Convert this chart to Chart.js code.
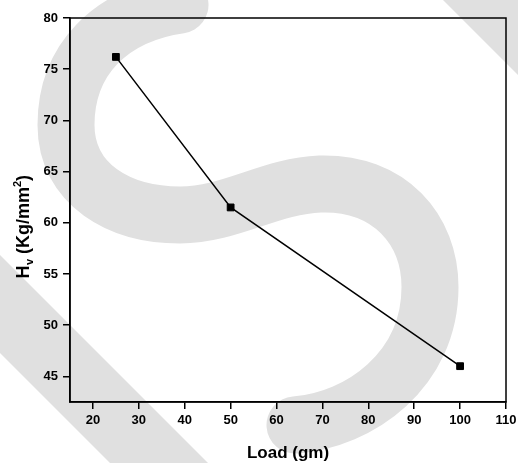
<!DOCTYPE html>
<html>
<head>
<meta charset="utf-8">
<script src="https://cdn.jsdelivr.net/npm/chart.js@4/dist/chart.umd.min.js"></script>
<style>
  html, body { margin: 0; padding: 0; background: #ffffff; }
  #wrap { width: 518px; height: 463px; }
</style>
</head>
<body>
<div id="wrap"><canvas id="c" width="518" height="463"></canvas></div>
<script>
// ---- data ----
const loads = [25, 50, 100];            // Load (gm)
const hardness = [76.2, 61.5, 46.0];    // Hv (Kg/mm^2)
const xTicks = [20, 30, 40, 50, 60, 70, 80, 90, 100, 110];
const yTicks = [45, 50, 55, 60, 65, 70, 75, 80];
const xTitle = 'Load (gm)';
const yTitleMain = 'H';
const yTitleSub = 'v';
const yTitleMid = ' (Kg/mm';
const yTitleSup = '2';
const yTitleEnd = ')';

const FONT = '"Liberation Sans", Arial, Helvetica, sans-serif';

// light grey watermark drawn behind the chart
const watermark = {
  id: 'watermark',
  beforeDraw(chart) {
    const ctx = chart.ctx;
    ctx.save();
    ctx.fillStyle = '#e0e0e0';
    ctx.strokeStyle = '#e0e0e0';
    // diagonal bands
    ctx.beginPath();
    ctx.moveTo(0, 255); ctx.lineTo(208, 463); ctx.lineTo(110, 463); ctx.lineTo(0, 353);
    ctx.closePath(); ctx.fill();
    ctx.beginPath();
    ctx.moveTo(443, 0); ctx.lineTo(518, 0); ctx.lineTo(518, 75);
    ctx.closePath(); ctx.fill();
    // S shape
    ctx.lineWidth = 57;
    ctx.lineCap = 'round';
    ctx.beginPath();
    ctx.moveTo(180, 5);
    ctx.bezierCurveTo(110, 15, 66, 60, 66, 125);
    ctx.bezierCurveTo(66, 185, 120, 215, 180, 215);
    ctx.bezierCurveTo(230, 215, 270, 186, 320, 184);
    ctx.bezierCurveTo(390, 182, 430, 230, 430, 287);
    ctx.bezierCurveTo(430, 370, 360, 420, 295, 425);
    ctx.stroke();
    ctx.restore();
  }
};

// frame + axis titles
const frameAndTitles = {
  id: 'frameAndTitles',
  afterDraw(chart) {
    const ctx = chart.ctx;
    const a = chart.chartArea;
    ctx.save();
    ctx.strokeStyle = '#000';
    ctx.lineWidth = 1.5;
    ctx.strokeRect(a.left, a.top, a.right - a.left, a.bottom - a.top);

    ctx.fillStyle = '#000';
    // x title
    ctx.font = 'bold 17px ' + FONT;
    ctx.textAlign = 'center';
    ctx.textBaseline = 'alphabetic';
    ctx.fillText(xTitle, (a.left + a.right) / 2, 458);

    // y title (rotated) with subscript and superscript
    const big = 'bold 18px ' + FONT;
    const small = 'bold 11px ' + FONT;
    ctx.font = big;
    const wH = ctx.measureText(yTitleMain).width;
    const wMid = ctx.measureText(yTitleMid).width;
    const wEnd = ctx.measureText(yTitleEnd).width;
    ctx.font = small;
    const wSub = ctx.measureText(yTitleSub).width;
    const wSup = ctx.measureText(yTitleSup).width;
    const total = wH + wSub + wMid + wSup + wEnd;
    ctx.translate(29, 227);
    ctx.rotate(-Math.PI / 2);
    ctx.textAlign = 'left';
    let x = -total / 2;
    ctx.font = big; ctx.fillText(yTitleMain, x, 0); x += wH;
    ctx.font = small; ctx.fillText(yTitleSub, x + 0.5, 4); x += wSub + 0.5;
    ctx.font = big; ctx.fillText(yTitleMid, x, 0); x += wMid;
    ctx.font = small; ctx.fillText(yTitleSup, x, -8); x += wSup;
    ctx.font = big; ctx.fillText(yTitleEnd, x, 0);
    ctx.restore();
  }
};

new Chart(document.getElementById('c'), {
  type: 'line',
  data: {
    datasets: [{
      data: loads.map((v, i) => ({ x: v, y: hardness[i] })),
      borderColor: '#000',
      backgroundColor: '#000',
      borderWidth: 1.5,
      pointStyle: 'rect',
      pointRadius: 4.8,
      pointBorderWidth: 1,
      pointBackgroundColor: '#000',
      pointBorderColor: '#000',
      tension: 0,
      fill: false
    }]
  },
  options: {
    responsive: false,
    animation: false,
    layout: { padding: { left: 0, top: 18, right: 12, bottom: 0 } },
    plugins: { legend: { display: false }, tooltip: { enabled: false }, title: { display: false } },
    scales: {
      x: {
        type: 'linear',
        min: 15, max: 110,
        afterBuildTicks: (axis) => { axis.ticks = xTicks.map(v => ({ value: v })); },
        afterFit: (axis) => { axis.height = 61; axis.paddingLeft = 0; axis.paddingRight = 0; },
        grid: { display: true, drawOnChartArea: false, drawTicks: true, tickLength: 7, color: '#000', lineWidth: 1.5 },
        border: { display: true, color: '#000', width: 1.5 },
        ticks: { color: '#000', font: { family: FONT, size: 13, weight: 'bold' }, padding: 4, maxRotation: 0, autoSkip: false }
      },
      y: {
        type: 'linear',
        min: 42.5, max: 80,
        afterBuildTicks: (axis) => { axis.ticks = yTicks.map(v => ({ value: v })); },
        afterFit: (axis) => { axis.width = 70; axis.paddingTop = 0; axis.paddingBottom = 0; },
        grid: { display: true, drawOnChartArea: false, drawTicks: true, tickLength: 7, color: '#000', lineWidth: 1.5 },
        border: { display: true, color: '#000', width: 1.5 },
        ticks: { color: '#000', font: { family: FONT, size: 13, weight: 'bold' }, padding: 5 }
      }
    }
  },
  plugins: [watermark, frameAndTitles]
});
</script>
</body>
</html>
